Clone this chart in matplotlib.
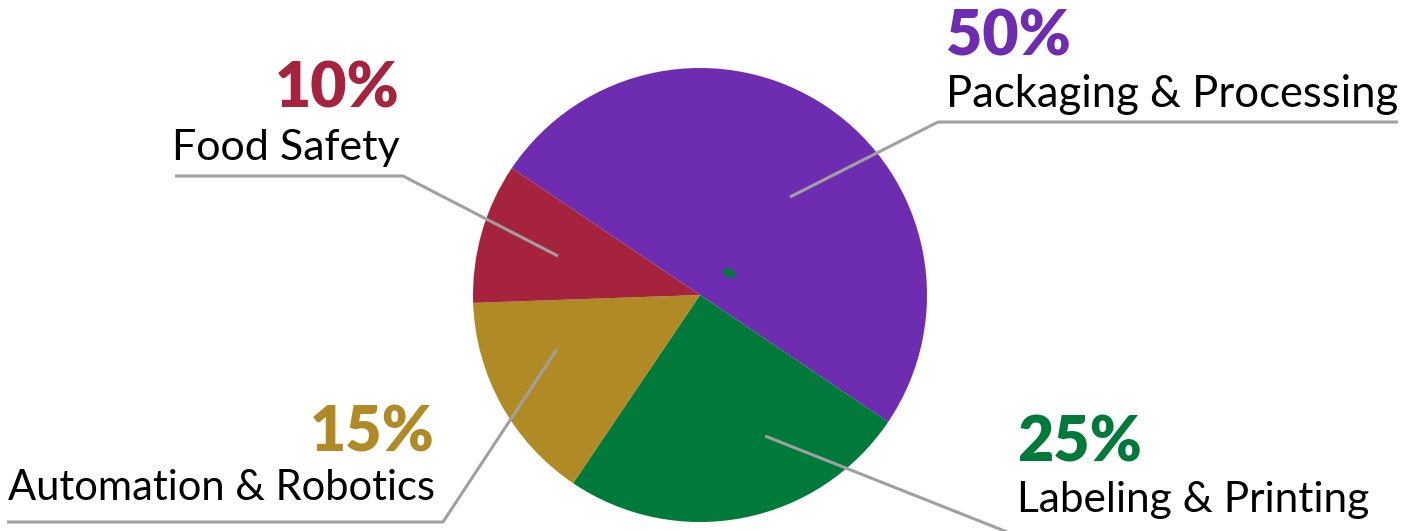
import matplotlib
matplotlib.use("Agg")
import matplotlib.pyplot as plt
from matplotlib.patches import Ellipse

W, H = 1417, 531

categories = ["Packaging & Processing", "Labeling & Printing", "Automation & Robotics", "Food Safety"]
shares = [50, 25, 15, 10]
colors = ["#6E2DB0", "#007A3A", "#B08A25", "#A6233D"]

fig = plt.figure(figsize=(W / 100, H / 100), dpi=100)
ax = fig.add_axes([0, 0, 1, 1])


def py(y):
    # pixel row from the top -> data y
    return H - y


ax.pie(shares, colors=colors, startangle=146, counterclock=False,
       center=(700, py(295)), radius=227, frame=True,
       wedgeprops=dict(linewidth=0))
ax.set_xlim(0, W)
ax.set_ylim(0, H)
ax.axis("off")

# small stray mark near the centre
ax.add_patch(Ellipse((729, py(273)), 12, 7, angle=-25, color="#007A3A", zorder=3))

# leader lines: (x, y) in pixels from top-left
leaders = [
    [(790, 197), (938, 122), (1398, 122)],
    [(765, 436), (1040, 545)],
    [(557, 349), (443, 522), (7, 522)],
    [(558, 256), (403, 176), (175, 176)],
]
for pts in leaders:
    xs = [p[0] for p in pts]
    ys = [py(p[1]) for p in pts]
    ax.plot(xs, ys, color="#A0A0A0", lw=2.2, solid_capstyle="butt", zorder=4)

# label anchors: (x, pct baseline, name baseline, ha, name size)
anchors = [
    (946, 55, 107, "left", 31.4),
    (1017, 462, 512, "left", 30.5),
    (435, 452, 500, "right", 30),
    (400, 108, 160, "right", 31),
]
for name, val, col, (x, yb, yn, ha, fs) in zip(categories, shares, colors, anchors):
    ax.text(x, py(yb), f"{val}%", color=col, fontsize=45, fontweight="heavy",
            family="Lato", ha=ha, va="baseline")
    ax.text(x, py(yn), name, color="black", fontsize=fs,
            family="Lato", ha=ha, va="baseline")

fig.savefig("out.png", dpi=100)
